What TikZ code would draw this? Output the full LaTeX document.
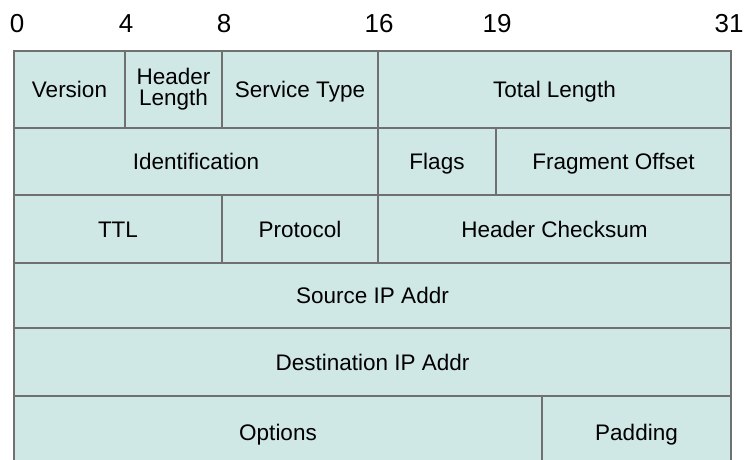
\documentclass[tikz,border=0pt]{standalone}
\usepackage{fontspec}
\setmainfont{Liberation Sans}
\usetikzlibrary{positioning}
\definecolor{cellfill}{RGB}{207,231,229}
\definecolor{cellline}{RGB}{112,112,112}

\begin{document}
\begin{tikzpicture}[x=1pt,y=-1pt,
  field/.style={draw=cellline,fill=cellfill,line width=2.7pt,anchor=north west,
    inner sep=0pt,outer sep=0pt,align=center,text height=16pt,text depth=0pt,
    font=\fontsize{22.5}{21}\selectfont},
  size/.style 2 args={minimum width=#1pt,minimum height=#2pt},
  bitno/.style={anchor=base,font=\fontsize{26}{26}\selectfont}]
\useasboundingbox (0,0) rectangle (746,459);
\clip (0,0) rectangle (746,459);
% bit positions
\node[bitno] (b0) at (17,32) {0};
\node[bitno] (b4) at (126,32) {4};
\node[bitno] (b8) at (224,32) {8};
\node[bitno] (b16) at (379,32) {16};
\node[bitno] (b19) at (497,32) {19};
\node[bitno] (b31) at (729,32) {31};
% first word
\node[field,size={111}{77}] (ver) at (14,51) {Version};
\node[field,size={97}{77},text height=,text depth=] (hlen) at (125,51) {Header\\Length};
\node[field,size={156}{77}] (stype) at (222,51) {Service Type};
\node[field,size={353}{77}] (tlen) at (378,51) {Total Length};
% second word
\node[field,size={364}{67}] (ident) at (14,128) {Identification};
\node[field,size={118}{67}] (flags) at (378,128) {Flags};
\node[field,size={235}{67}] (fragoff) at (496,128) {Fragment Offset};
% third word
\node[field,size={208}{68}] (ttl) at (14,195) {TTL};
\node[field,size={156}{68}] (proto) at (222,195) {Protocol};
\node[field,size={353}{68}] (hcheck) at (378,195) {Header Checksum};
% addresses
\node[field,size={717}{65}] (srcip) at (14,263) {Source IP Addr};
\node[field,size={717}{68}] (dstip) at (14,328) {Destination IP Addr};
% options
\node[field,size={528}{72}] (opts) at (14,396) {Options};
\node[field,size={189}{72}] (pad) at (542,396) {Padding};
\end{tikzpicture}
\end{document}
